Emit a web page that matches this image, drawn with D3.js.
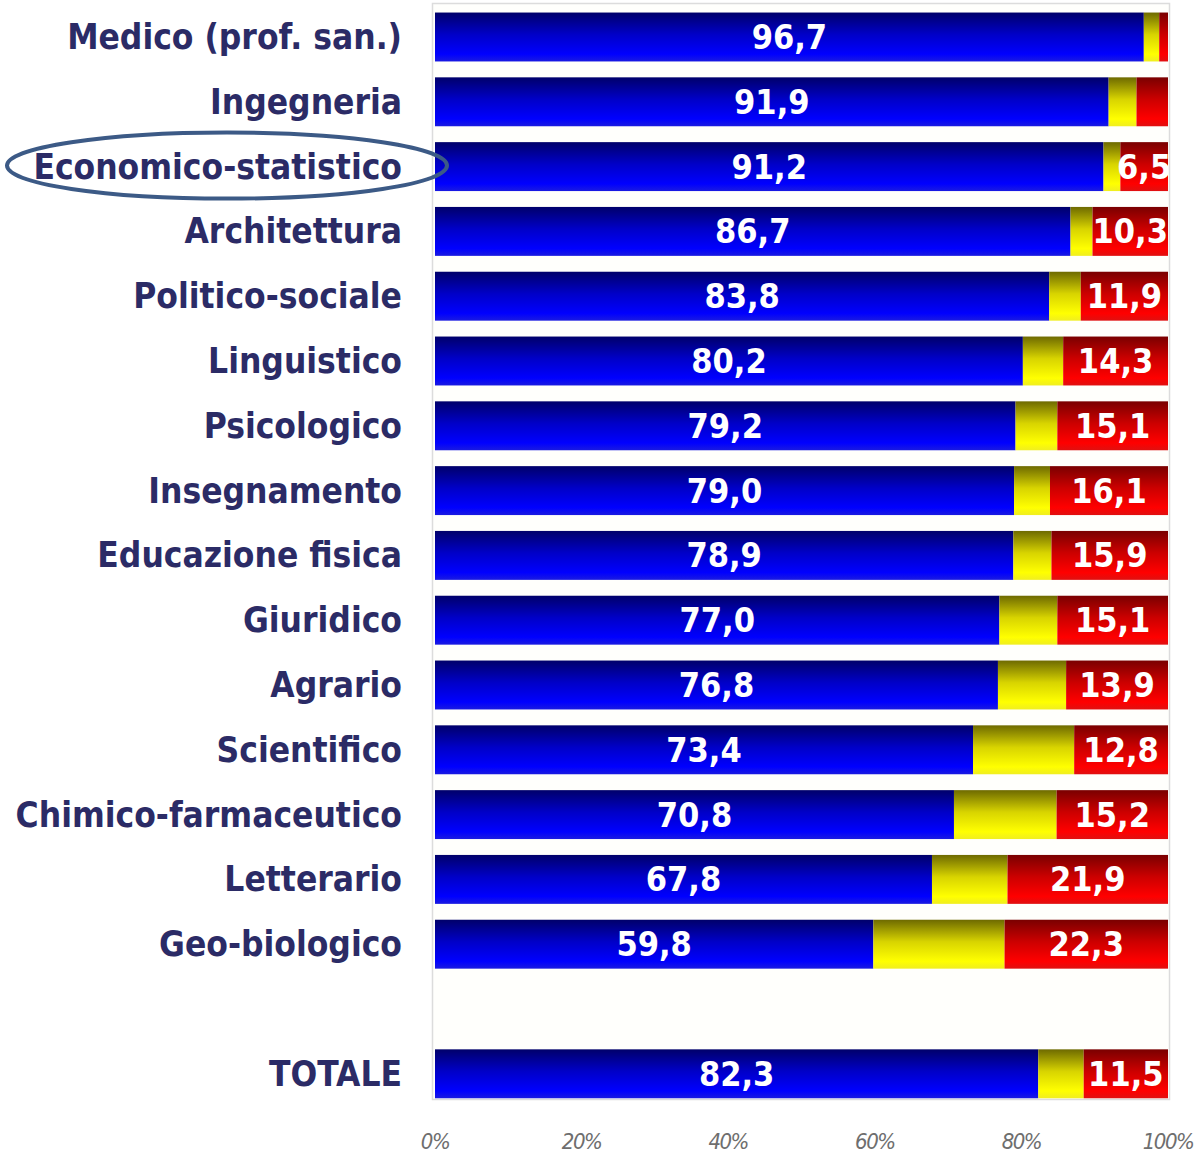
<!DOCTYPE html>
<html>
<head>
<meta charset="utf-8">
<script src="https://cdn.jsdelivr.net/npm/d3@7"></script>
<style>
  body { margin: 0; background: #fff; }
  svg { display: block; }
</style>
</head>
<body>
<div id="chart"></div>
<script>
// percentuali per gruppo disciplinare
var categories = ["Medico (prof. san.)", "Ingegneria", "Economico-statistico", "Architettura",
  "Politico-sociale", "Linguistico", "Psicologico", "Insegnamento", "Educazione fisica",
  "Giuridico", "Agrario", "Scientifico", "Chimico-farmaceutico", "Letterario", "Geo-biologico", "TOTALE"];
var blueVals   = [96.7, 91.9, 91.2, 86.7, 83.8, 80.2, 79.2, 79.0, 78.9, 77.0, 76.8, 73.4, 70.8, 67.8, 59.8, 82.3];
var yellowVals = [2.1, 3.8, 2.3, 3.0, 4.3, 5.5, 5.7, 4.9, 5.2, 7.9, 9.3, 13.8, 14.0, 10.3, 17.9, 6.2];
var redVals    = [1.2, 4.3, 6.5, 10.3, 11.9, 14.3, 15.1, 16.1, 15.9, 15.1, 13.9, 12.8, 15.2, 21.9, 22.3, 11.5];
var ticks = [0, 20, 40, 60, 80, 100];

var W = 1202, H = 1171;
var x0 = 435, x1 = 1168;

var svg = d3.select("#chart").append("svg")
    .attr("width", W)
    .attr("height", H);

// slot vuoto prima del totale
var slots = categories.slice(0, 15).concat(["__gap__"], categories.slice(15));

var x = d3.scaleLinear().domain([0, 100]).range([x0, x1]);
var y = d3.scaleBand().domain(slots).range([4.6, 1106.2])
    .paddingInner(0.245).paddingOuter(0.1225);

var defs = svg.append("defs");
function grad(id, stops) {
  var g = defs.append("linearGradient").attr("id", id)
    .attr("x1", 0).attr("y1", 0).attr("x2", 0).attr("y2", 1);
  stops.forEach(function(s) {
    g.append("stop").attr("offset", s[0]).attr("stop-color", s[1]);
  });
}
grad("gBlue",   [[0, "#00006a"], [0.45, "#0000c8"], [0.85, "#0000ff"], [1, "#1a1ae0"]]);
grad("gYellow", [[0, "#6e6a00"], [0.45, "#d8d400"], [0.85, "#ffff00"], [1, "#f0ee20"]]);
grad("gRed",    [[0, "#7a0000"], [0.45, "#cc0000"], [0.85, "#ff0000"], [1, "#e01010"]]);

defs.append("clipPath").attr("id", "plotClip")
  .append("rect").attr("x", x0).attr("y", 0).attr("width", x1 - x0).attr("height", H);

// cornice area del grafico
svg.append("rect")
    .attr("x", 432.5).attr("y", 3.5)
    .attr("width", 737).attr("height", 1096)
    .attr("fill", "#fffffc")
    .attr("stroke", "#dcdcdc")
    .attr("stroke-width", 1.5);

var rows = categories.map(function(c, i) {
  return { cat: c, blue: blueVals[i], yellow: yellowVals[i], red: redVals[i] };
});

var plot = svg.append("g").attr("clip-path", "url(#plotClip)");

var row = plot.selectAll(".row")
    .data(rows)
  .enter().append("g")
    .attr("class", "row")
    .attr("transform", function(d) { return "translate(0," + y(d.cat) + ")"; });

row.append("rect")
    .attr("x", x(0))
    .attr("width", function(d) { return x(d.blue) - x(0); })
    .attr("height", y.bandwidth())
    .attr("fill", "url(#gBlue)");

row.append("rect")
    .attr("x", function(d) { return x(d.blue); })
    .attr("width", function(d) { return x(d.blue + d.yellow) - x(d.blue); })
    .attr("height", y.bandwidth())
    .attr("fill", "url(#gYellow)");

row.append("rect")
    .attr("x", function(d) { return x(100 - d.red); })
    .attr("width", function(d) { return x(100) - x(100 - d.red); })
    .attr("height", y.bandwidth())
    .attr("fill", "url(#gRed)");

var fmt = function(v) { return v.toFixed(1).replace(".", ","); };
var numFont = "'DejaVu Sans Condensed', 'DejaVu Sans', sans-serif";

row.append("text")
    .attr("x", function(d) { return (x(0) + x(d.blue)) / 2; })
    .attr("y", y.bandwidth() / 2 + 12)
    .attr("text-anchor", "middle")
    .style("font-family", numFont)
    .style("font-stretch", "condensed")
    .style("font-weight", "bold")
    .style("font-size", "34px")
    .style("fill", "#fff")
    .text(function(d) { return fmt(d.blue); });

row.filter(function(d) { return d.red >= 5; }).append("text")
    .attr("x", function(d) { return (x(100 - d.red) + x(100)) / 2; })
    .attr("y", y.bandwidth() / 2 + 12)
    .attr("text-anchor", "middle")
    .style("font-family", numFont)
    .style("font-stretch", "condensed")
    .style("font-weight", "bold")
    .style("font-size", "34px")
    .style("fill", "#fff")
    .text(function(d) { return fmt(d.red); });

// etichette categorie
svg.append("g").selectAll("text")
    .data(categories)
  .enter().append("text")
    .attr("x", 402)
    .attr("y", function(d) { return y(d) + y.bandwidth() / 2 + 12; })
    .attr("text-anchor", "end")
    .style("font-family", numFont)
    .style("font-stretch", "condensed")
    .style("font-weight", "bold")
    .style("font-size", "35px")
    .style("fill", "#2b2b66")
    .text(function(d) { return d; });

// asse x
svg.append("g").selectAll("text")
    .data(ticks)
  .enter().append("text")
    .attr("x", function(d) { return x(d); })
    .attr("y", 1149)
    .attr("text-anchor", "middle")
    .style("font-family", "'DejaVu Sans Condensed', 'DejaVu Sans', sans-serif")
    .style("font-style", "italic")
    .style("font-size", "22px")
    .style("letter-spacing", "-1.5px")
    .style("fill", "#6e6e6e")
    .text(function(d) { return d + "%"; });

// evidenziazione Economico-statistico
svg.append("ellipse")
    .attr("cx", 227)
    .attr("cy", y("Economico-statistico") + y.bandwidth() / 2 - 1)
    .attr("rx", 220)
    .attr("ry", 33)
    .attr("fill", "none")
    .attr("stroke", "#3c5a86")
    .attr("stroke-width", 4);
</script>
</body>
</html>
